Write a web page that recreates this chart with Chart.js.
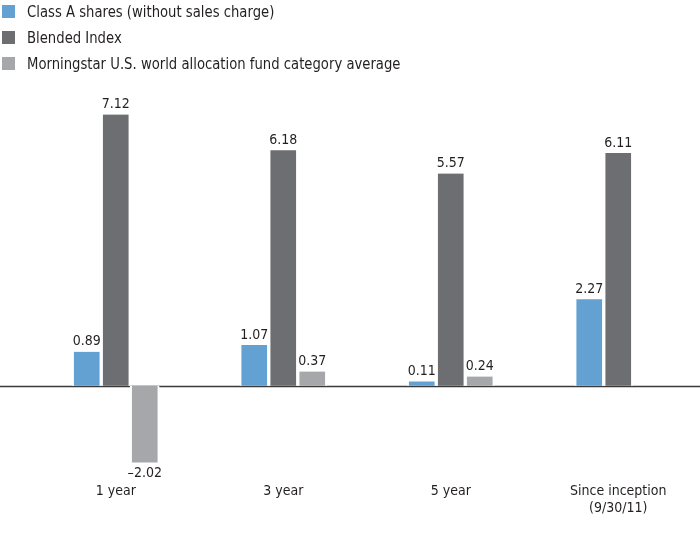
<!DOCTYPE html>
<html>
<head>
<meta charset="utf-8">
<script src="https://cdn.jsdelivr.net/npm/chart.js@4"></script>
<style>
  html, body { margin: 0; padding: 0; background: #fff; overflow: hidden; }
  .wrap { position: relative; width: 702px; height: 542px; }
  .js-legend { position: absolute; left: 2px; top: 0; font-family: "Liberation Sans Narrow", "DejaVu Sans Condensed", sans-serif; font-size: 16.5px; color: #231f20; }
  .js-legend div { height: 26px; line-height: 24px; white-space: nowrap; }
  .js-legend span { display: inline-block; width: 13px; height: 13px; margin-right: 12px; vertical-align: -1px; }
  .js-legend em { font-style: normal; display: inline-block; transform: scaleX(0.89); transform-origin: left center; }
</style>
</head>
<body>
<div class="wrap">
  <canvas class="js-chart" width="702" height="542"></canvas>
  <div class="js-legend"></div>
</div>
<script>
const labels = ['1 year', '3 year', '5 year', ['Since inception', '(9/30/11)']]
const seriesNames = ['Class A shares (without sales charge)', 'Blended Index', 'Morningstar U.S. world allocation fund category average']
const classA = [0.89, 1.07, 0.11, 2.27]
const blended = [7.12, 6.18, 5.57, 6.11]
const morningstar = [-2.02, 0.37, 0.24, null]
const colors = ['#62a1d1', '#6d6e71', '#a5a7aa']

const font = '"Liberation Sans Narrow", "DejaVu Sans Condensed", sans-serif'

// legend as plain html, stacked like the print version
const legend = document.querySelector('.js-legend')
seriesNames.forEach(function(name, i){
    legend.innerHTML += `<div><span style="background-color: ${colors[i]}"></span><em>${name}</em></div>`
})

const valueLabels = {
    id: 'valueLabels',
    afterDatasetsDraw(chart){
        const ctx = chart.ctx
        ctx.save()
        ctx.font = '14px ' + font
        ctx.fillStyle = '#231f20'
        ctx.textAlign = 'center'
        chart.data.datasets.forEach(function(ds, d){
            chart.getDatasetMeta(d).data.forEach(function(bar, i){
                const v = ds.data[i]
                if(v === null || v === undefined) return
                const txt = v < 0 ? '\u2013' + Math.abs(v).toFixed(2) : v.toFixed(2)
                if(v < 0){
                    ctx.textBaseline = 'top'
                    ctx.fillText(txt, bar.x, bar.y + 4)
                } else {
                    ctx.textBaseline = 'bottom'
                    ctx.fillText(txt, bar.x, bar.y - 3)
                }
            })
        })
        ctx.restore()
    }
}

const zeroLine = {
    id: 'zeroLine',
    beforeDatasetsDraw(chart){
        const y = Math.round(chart.scales.y.getPixelForValue(0)) + 0.5
        const ctx = chart.ctx
        ctx.save()
        ctx.strokeStyle = '#3a3a3a'
        ctx.lineWidth = 1.3
        ctx.beginPath()
        ctx.moveTo(0, y)
        ctx.lineTo(chart.width, y)
        ctx.stroke()
        ctx.restore()
    }
}

const makeSet = function(name, values, color){
    return {
        label: name,
        data: values,
        backgroundColor: color,
        borderColor: '#ffffff',
        borderWidth: {left: 2, right: 2, top: 0, bottom: 0},
        borderSkipped: false,
        barThickness: 29
    }
}

const config = {
    type: 'bar',
    data: {
        labels: labels,
        datasets: [
            makeSet(seriesNames[0], classA, colors[0]),
            makeSet(seriesNames[1], blended, colors[1]),
            makeSet(seriesNames[2], morningstar, colors[2])
        ]
    },
    options: {
        responsive: false,
        animation: false,
        layout: { padding: { top: 81, left: 32, right: 0, bottom: 11 } },
        scales: {
            x: {
                grid: { display: false, drawTicks: false },
                border: { display: false },
                ticks: { color: '#231f20', padding: 14, font: { family: font, size: 14 }, maxRotation: 0 }
            },
            y: {
                display: false,
                min: -2.2,
                max: 8
            }
        },
        plugins: {
            legend: { display: false },
            tooltip: { enabled: false }
        }
    },
    plugins: [zeroLine, valueLabels]
}

const chart = new Chart(document.querySelector('.js-chart'), config)
</script>
</body>
</html>
